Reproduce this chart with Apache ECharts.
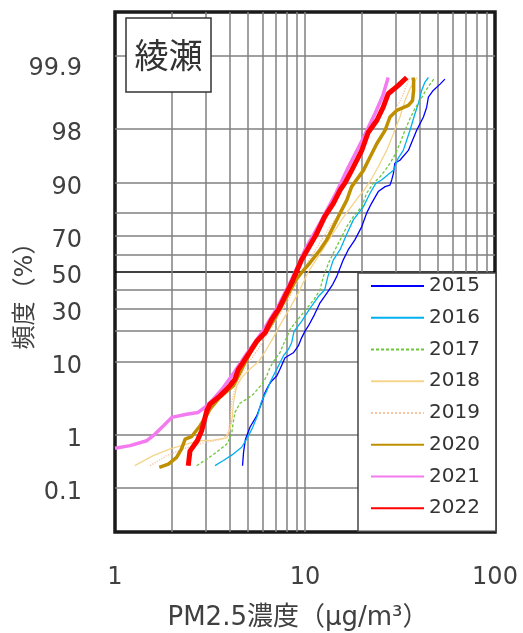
<!DOCTYPE html>
<html><head><meta charset="utf-8">
<script src="https://cdn.jsdelivr.net/npm/echarts@6/dist/echarts.min.js"></script>
<style>html,body{margin:0;padding:0;background:#fff}#c{width:523px;height:633px}</style>
</head><body><div id="c"></div>
<script>
// ---------------- DATA: [PM2.5 concentration (μg/m3), cumulative frequency (%)] ----------------
const years = ['2015','2016','2017','2018','2019','2020','2021','2022'];
const d2015 = [[4.69,0.28],[4.75,0.5],[4.86,0.84],[5.14,1.33],[5.57,1.98],[5.92,3.1],[6.16,4.24],[6.41,5.16],[6.68,5.96],[7.1,6.85],[7.38,8.2],[7.85,11.0],[8.68,12.4],[9.22,14.5],[9.61,17.4],[10.0,19.9],[10.4,21.9],[11.2,27],[12.0,33],[13.2,39],[14.0,43],[14.7,47.5],[15.9,56.9],[16.9,62.5],[18.3,67.7],[19.9,74.2],[21.1,80],[22.4,83.7],[24.3,87.5],[26.4,88.9],[28.0,89.3],[28.6,90.6],[29.2,92.1],[29.7,94.0],[31.6,94.5],[35.0,95.9],[38.7,97.87],[42.0,98.67],[43.7,99.08],[44.6,99.38],[47.3,99.53],[51.4,99.64],[54.5,99.71]];
const d2016 = [[3.36,0.28],[3.72,0.35],[4.19,0.46],[4.64,0.61],[4.93,0.84],[5.26,1.24],[5.62,1.98],[5.9,3.2],[6.29,4.45],[6.54,5.7],[6.95,7.5],[7.23,8.9],[7.69,11.5],[8.17,13.4],[8.51,15.6],[8.75,19.8],[9.6,24],[10.6,30],[11.7,36],[12.7,40],[13.2,47.5],[14.1,56.9],[15.3,62.5],[16.6,70.7],[17.96,77.2],[20.3,82.5],[22.0,87.0],[23.6,89.8],[25.3,90.6],[29.2,92.7],[30.9,94.8],[32.9,95.9],[35.7,97.87],[37.9,98.82],[39.5,99.2],[41.1,99.53],[42.8,99.67],[44.6,99.73]];
const d2017 = [[2.69,0.28],[3.04,0.37],[3.43,0.5],[3.87,0.69],[4.11,1.02],[4.19,1.57],[4.28,2.23],[4.55,3.03],[4.93,3.45],[5.34,4.02],[5.94,5.42],[6.29,6.85],[6.54,8.6],[6.95,10.6],[7.38,12.4],[7.69,15.0],[8.01,17.4],[8.34,20.6],[9.2,25],[10.2,30],[11.2,35],[12.0,40],[12.5,47.5],[13.3,55.1],[14.1,60.7],[15.3,67.7],[16.6,74.2],[17.96,78.6],[19.9,82.5],[21.1,87.0],[22.9,89.8],[24.8,91.3],[26.4,92.7],[28.0,94.0],[29.7,95.3],[31.6,96.7],[33.6,97.87],[35.7,98.59],[37.9,99.03],[40.3,99.29],[42.8,99.5],[45.5,99.64],[48.3,99.73]];
const d2018 = [[1.27,0.28],[1.59,0.43],[1.95,0.57],[2.38,0.69],[2.8,0.79],[3.29,0.81],[3.87,0.88],[4.03,1.24],[4.15,1.9],[4.2,3.1],[4.37,5.16],[4.7,6.8],[5.2,8.5],[5.7,10],[6.2,13],[6.7,16.5],[7.1,20],[7.7,25],[8.4,31],[9.2,38],[9.9,45],[10.4,50],[11.3,56],[12.3,62],[13.4,68],[14.5,73],[15.8,78],[17.3,82],[18.9,85.5],[20.5,88],[22.5,91],[24.3,93.4],[26.9,95.9],[29.2,97.6],[31.6,98.67],[33.6,99.29],[35.5,99.55],[38.8,99.73]];
const d2019 = [[1.53,0.28],[1.87,0.43],[2.29,0.57],[2.58,0.65],[2.9,0.72],[3.3,0.78],[3.7,0.85],[3.95,1.1],[4.05,1.8],[4.1,3.0],[4.25,4.5],[4.6,7],[5.1,10],[5.6,13],[6.0,16],[6.5,20],[7.1,25],[7.8,31],[8.5,38],[9.1,44],[9.6,50],[10.4,56],[11.3,62],[12.3,68],[13.5,74],[14.8,79],[16.2,84],[17.5,88],[19.3,91.5],[21.5,94.5],[23.8,96.5],[26.5,97.9],[29.5,98.9],[32.5,99.4],[35.5,99.73]];
const d2020 = [[1.71,0.26],[1.91,0.30],[2.11,0.40],[2.24,0.57],[2.34,0.84],[2.53,0.93],[2.80,1.38],[3.0,1.9],[3.16,2.49],[3.57,3.67],[4.19,5.16],[4.73,8.9],[5.1,12],[5.7,16.5],[6.3,20],[6.9,25],[7.5,31],[8.2,38],[9.0,46],[10.0,52],[10.6,55.1],[12.0,62.5],[13.0,67.7],[14.1,74.2],[15.3,80],[16.6,84.8],[17.6,88.9],[20.3,92.7],[22.0,95.0],[23.9,96.7],[26.4,97.87],[28.0,98.67],[30.4,98.96],[35.0,99.14],[36.8,99.29],[37.3,99.53],[37.3,99.69],[37.0,99.73]];
const d2021 = [[1.0,0.585],[1.2,0.65],[1.47,0.79],[1.59,0.96],[1.8,1.39],[1.99,1.88],[2.38,2.1],[2.74,2.23],[3.04,2.78],[3.29,3.45],[3.66,4.68],[4.18,7.2],[4.83,11.4],[5.94,19.4],[7.21,31.1],[8.65,47.3],[10.0,62.5],[12.1,76.3],[14.4,86.5],[16.8,93.1],[19.95,97.0],[23.4,98.84],[25.7,99.42],[27.4,99.73]];
const d2022 = [[2.43,0.28],[2.48,0.52],[2.71,0.79],[2.86,1.16],[3.04,2.35],[3.16,2.94],[3.57,3.82],[3.95,4.93],[4.28,6.25],[4.46,8.2],[4.75,10],[5.03,11.9],[5.57,16.1],[6.16,19.2],[6.68,24.9],[7.3,30],[8.0,38.2],[8.6,45],[9.0,50],[9.6,57],[10.5,64],[11.4,70],[12.7,78.6],[14.1,83.7],[15.3,87.9],[16.3,90],[17.6,92.7],[19.9,95.9],[21.5,97.7],[23.9,98.5],[25.8,99.08],[27.4,99.46],[31.0,99.62],[34.3,99.73]];
const yGridPercents = [0.1,1,10,20,30,40,50,60,70,80,90,98,99.9];
const yLabelPercents = [0.1,1,10,30,50,70,90,98,99.9];
const xGridValues = [2,3,4,5,6,7,8,9,10,20,30,40,50,60,70,80,90];
const xLabelValues = [1,10,100];
const yRangePercent = [0.01,99.99];
const siteName = '綾瀬';
const yName = '頻度（%）';
const xName = 'PM2.5濃度（μg/m³）';

// ---------------- STYLE ----------------
const dataSets = [d2015,d2016,d2017,d2018,d2019,d2020,d2021,d2022];
const colors = ['#0000FF','#00B0F0','#6DC83A','#F5D48A','#F9C4A0','#BF8F00','#F47AF0','#FF0000'];
const widths = [1.3,1.3,1.3,1.3,1.3,3.5,3.5,5];
const types  = ['solid','solid',[3,2],'solid','dotted','solid','solid','solid'];
const numFont = 'DejaVu Sans';
const mixFont = '"DejaVu Sans","Noto Sans CJK JP"';

// inverse standard normal CDF (probability-paper scale)
function probit(p){
  const a=[-3.969683028665376e+01,2.209460984245205e+02,-2.759285104469687e+02,1.383577518672690e+02,-3.066479806614716e+01,2.506628277459239e+00];
  const b=[-5.447609879822406e+01,1.615858368580409e+02,-1.556989798598866e+02,6.680131188771972e+01,-1.328068155288572e+01];
  const c=[-7.784894002430293e-03,-3.223964580411365e-01,-2.400758277161838e+00,-2.549732539343734e+00,4.374664141464968e+00,2.938163982698783e+00];
  const d=[7.784695709041462e-03,3.224671290700398e-01,2.445134137142996e+00,3.754408661907416e+00];
  const pl=0.02425, ph=1-pl; let q,r;
  if(p<pl){q=Math.sqrt(-2*Math.log(p));return (((((c[0]*q+c[1])*q+c[2])*q+c[3])*q+c[4])*q+c[5])/((((d[0]*q+d[1])*q+d[2])*q+d[3])*q+1);}
  if(p<=ph){q=p-0.5;r=q*q;return (((((a[0]*r+a[1])*r+a[2])*r+a[3])*r+a[4])*r+a[5])*q/(((((b[0]*r+b[1])*r+b[2])*r+b[3])*r+b[4])*r+1);}
  q=Math.sqrt(-2*Math.log(1-p));return -(((((c[0]*q+c[1])*q+c[2])*q+c[3])*q+c[4])*q+c[5])/((((d[0]*q+d[1])*q+d[2])*q+d[3])*q+1);
}
const z = p => probit(p/100);

const chart = echarts.init(document.getElementById('c'), null, {renderer:'canvas'});
chart.setOption({
  animation:false,
  backgroundColor:'#fff',
  grid:{left:115,right:28,top:12,bottom:101,show:true,borderColor:'#1a1a1a',borderWidth:3.5,backgroundColor:'transparent'},
  xAxis:{
    type:'log', logBase:10, min:1, max:100,
    axisLine:{show:false},
    axisTick:{show:false, customValues:xGridValues},
    splitLine:{show:true,lineStyle:{color:'#808080',width:1.5}},
    minorSplitLine:{show:false},
    axisLabel:{customValues:xLabelValues, margin:34, fontSize:24, fontFamily:numFont, color:'#404040', lineHeight:24,
      formatter:v=>String(Math.round(v))}
  },
  yAxis:{
    type:'value', min:z(yRangePercent[0]), max:z(yRangePercent[1]),
    axisLine:{show:false},
    axisTick:{show:false, customValues:yGridPercents.map(z)},
    splitLine:{show:true,lineStyle:{color:yGridPercents.map(p=>p===50?'#000':'#808080'),width:1.5}},
    axisLabel:{customValues:yLabelPercents.map(z), margin:33, fontSize:24, fontFamily:numFont, color:'#404040',
      padding:[10,0,0,0],
      formatter:function(v){
        for(const p of yLabelPercents){ if(Math.abs(z(p)-v)<1e-6) return p===99.9?'{t|'+p+'}':String(p); }
        return '';
      },
      rich:{t:{fontSize:24,fontFamily:numFont,color:'#404040',padding:[16,0,0,0]}}
    }
  },
  legend:{
    orient:'vertical', left:358, top:273, padding:[2,16,12,12],
    itemWidth:53, itemHeight:14, itemGap:9.75,
    backgroundColor:'#fff', borderColor:'#444', borderWidth:1.5,
    textStyle:{fontSize:20,fontFamily:numFont,color:'#333',lineHeight:22},
    itemStyle:{opacity:0},
    selectedMode:false,
    data:years
  },
  series: years.map((y,i)=>({
    name:y, type:'line', symbol:'none', silent:true, z:2+i*0.1,
    data:dataSets[i].map(([c,p])=>[c,z(p)]),
    lineStyle:{color:colors[i],width:widths[i],type:types[i]},
    itemStyle:{color:colors[i]}
  })),
  graphic:[
    {type:'rect',z:100,shape:{x:126,y:18,width:85,height:74},style:{fill:'#fff',stroke:'#333',lineWidth:1.5}},
    {type:'text',z:101,x:168.5,y:55,style:{text:siteName,font:'34px "Noto Sans CJK JP"',fill:'#333',align:'center',verticalAlign:'middle'}},
    {type:'text',z:101,x:26,y:290,rotation:Math.PI/2,style:{text:yName,font:'24px '+mixFont,fill:'#404040',align:'center',verticalAlign:'middle'}},
    {type:'text',z:101,x:298,y:618,style:{text:xName,font:'26px '+mixFont,fill:'#404040',align:'center',verticalAlign:'middle'}}
  ]
});
</script></body></html>
